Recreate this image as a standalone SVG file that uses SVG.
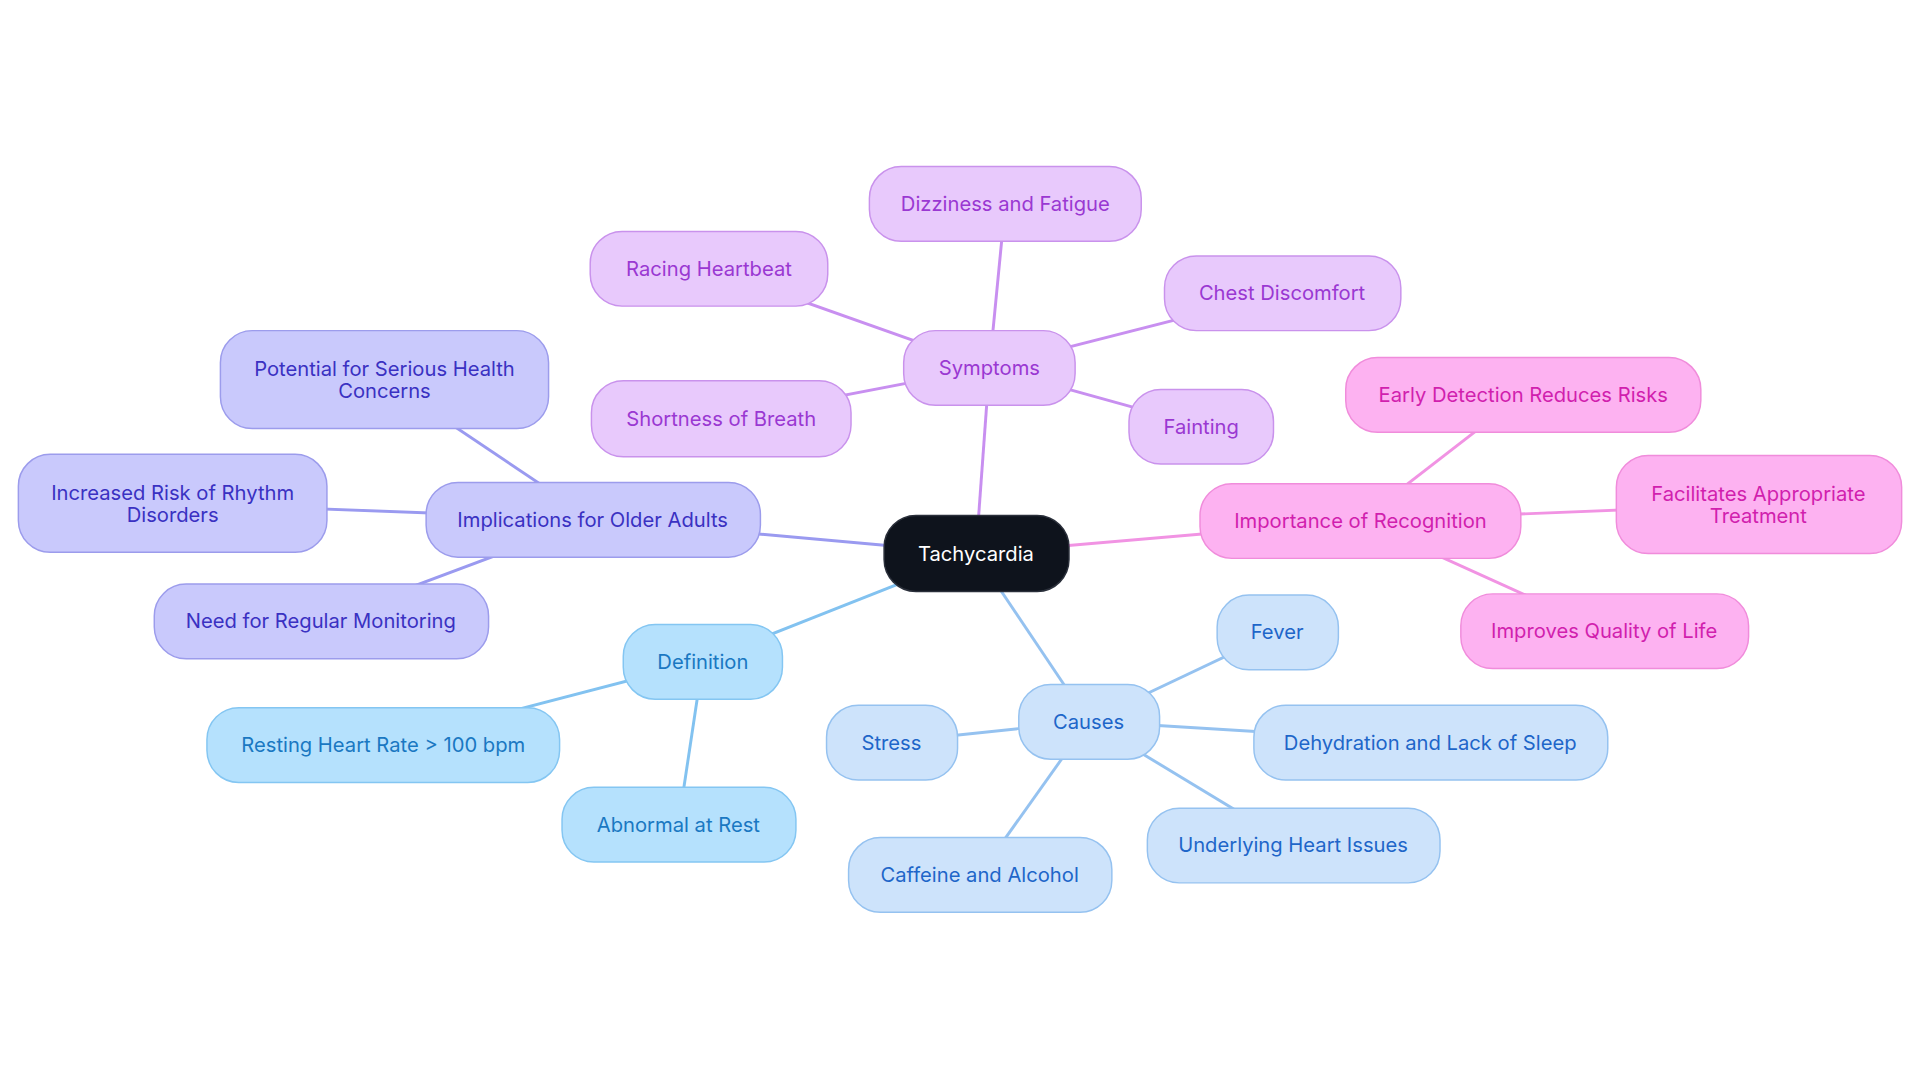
<svg xmlns="http://www.w3.org/2000/svg" width="1920" height="1083" viewBox="0 0 1920 1083">
<style>
text{font-family:Inter,"Noto Sans","Liberation Sans",sans-serif;font-size:16.5px;text-anchor:middle;dominant-baseline:central}
.sy rect{fill:#e8c9fc;stroke:#c992ec}.sy text{fill:#9a38d2}
.re rect{fill:#fdb2f1;stroke:#f08cdb}.re text{fill:#d11fae}
.im rect{fill:#c9c9fc;stroke:#9c9cec}.im text{fill:#3a31c2}
.de rect{fill:#b5e1fd;stroke:#84c6f2}.de text{fill:#1a78c2}
.ca rect{fill:#cde3fb;stroke:#95c2f0}.ca text{fill:#1e66c9}
rect{stroke-width:1.2}
#edges line{stroke-width:2.4}
</style>
<rect width="1920" height="1083" fill="#fff"/>
<g transform="scale(1.2245)">
<g id="edges">
<g stroke="#c88ff0"><line x1="797" y1="452" x2="808" y2="300"/><line x1="808" y1="300" x2="821" y2="166"/><line x1="808" y1="300" x2="579" y2="219"/><line x1="808" y1="300" x2="1047" y2="239"/><line x1="808" y1="300" x2="589" y2="342"/><line x1="808" y1="300" x2="981" y2="348"/></g>
<g stroke="#f193e3"><line x1="797" y1="452" x2="1111" y2="425"/><line x1="1111" y1="425" x2="1244" y2="322"/><line x1="1111" y1="425" x2="1436" y2="412"/><line x1="1111" y1="425" x2="1310" y2="515"/></g>
<g stroke="#9a9af0"><line x1="797" y1="452" x2="484" y2="424"/><line x1="484" y1="424" x2="314" y2="310"/><line x1="484" y1="424" x2="141" y2="411"/><line x1="484" y1="424" x2="262" y2="507"/></g>
<g stroke="#82c2f0"><line x1="797" y1="452" x2="574" y2="540"/><line x1="574" y1="540" x2="313" y2="608"/><line x1="574" y1="540" x2="554" y2="673"/></g>
<g stroke="#95c2f0"><line x1="797" y1="452" x2="889" y2="589"/><line x1="889" y1="589" x2="1043" y2="516"/><line x1="889" y1="589" x2="728" y2="606"/><line x1="889" y1="589" x2="1168" y2="606"/><line x1="889" y1="589" x2="1056" y2="690"/><line x1="889" y1="589" x2="800" y2="714"/></g>
</g>
<g id="n-root"><rect x="722" y="421" width="151" height="62" rx="26" fill="#0e131c" stroke="#2a2f3a"/><text x="797" y="452" fill="#fff">Tachycardia</text></g>
<g id="n-sym" class="sy"><rect x="738" y="270" width="140" height="61" rx="26"/><text x="808" y="300">Symptoms</text></g>
<g id="n-diz" class="sy"><rect x="710" y="136" width="222" height="61" rx="26"/><text x="821" y="166">Dizziness and Fatigue</text></g>
<g id="n-rac" class="sy"><rect x="482" y="189" width="194" height="61" rx="26"/><text x="579" y="219">Racing Heartbeat</text></g>
<g id="n-che" class="sy"><rect x="951" y="209" width="193" height="61" rx="26"/><text x="1047" y="239">Chest Discomfort</text></g>
<g id="n-sho" class="sy"><rect x="483" y="311" width="212" height="62" rx="26"/><text x="589" y="342">Shortness of Breath</text></g>
<g id="n-fai" class="sy"><rect x="922" y="318" width="118" height="61" rx="26"/><text x="981" y="348">Fainting</text></g>
<g id="n-rec" class="re"><rect x="980" y="395" width="262" height="61" rx="26"/><text x="1111" y="425">Importance of Recognition</text></g>
<g id="n-ear" class="re"><rect x="1099" y="292" width="290" height="61" rx="26"/><text x="1244" y="322">Early Detection Reduces Risks</text></g>
<g id="n-fac" class="re"><rect x="1320" y="372" width="233" height="80" rx="26"/><text x="1436" y="403">Facilitates Appropriate</text><text x="1436" y="421">Treatment</text></g>
<g id="n-imp" class="re"><rect x="1193" y="485" width="235" height="61" rx="26"/><text x="1310" y="515">Improves Quality of Life</text></g>
<g id="n-old" class="im"><rect x="348" y="394" width="273" height="61" rx="26"/><text x="484" y="424">Implications for Older Adults</text></g>
<g id="n-pot" class="im"><rect x="180" y="270" width="268" height="80" rx="26"/><text x="314" y="301">Potential for Serious Health</text><text x="314" y="319">Concerns</text></g>
<g id="n-inc" class="im"><rect x="15" y="371" width="252" height="80" rx="26"/><text x="141" y="402">Increased Risk of Rhythm</text><text x="141" y="420">Disorders</text></g>
<g id="n-nee" class="im"><rect x="126" y="477" width="273" height="61" rx="26"/><text x="262" y="507">Need for Regular Monitoring</text></g>
<g id="n-def" class="de"><rect x="509" y="510" width="130" height="61" rx="26"/><text x="574" y="540">Definition</text></g>
<g id="n-res" class="de"><rect x="169" y="578" width="288" height="61" rx="26"/><text x="313" y="608">Resting Heart Rate &gt; 100 bpm</text></g>
<g id="n-abn" class="de"><rect x="459" y="643" width="191" height="61" rx="26"/><text x="554" y="673">Abnormal at Rest</text></g>
<g id="n-cau" class="ca"><rect x="832" y="559" width="115" height="61" rx="26"/><text x="889" y="589">Causes</text></g>
<g id="n-fev" class="ca"><rect x="994" y="486" width="99" height="61" rx="26"/><text x="1043" y="516">Fever</text></g>
<g id="n-str" class="ca"><rect x="675" y="576" width="107" height="61" rx="26"/><text x="728" y="606">Stress</text></g>
<g id="n-deh" class="ca"><rect x="1024" y="576" width="289" height="61" rx="26"/><text x="1168" y="606">Dehydration and Lack of Sleep</text></g>
<g id="n-und" class="ca"><rect x="937" y="660" width="239" height="61" rx="26"/><text x="1056" y="690">Underlying Heart Issues</text></g>
<g id="n-caf" class="ca"><rect x="693" y="684" width="215" height="61" rx="26"/><text x="800" y="714">Caffeine and Alcohol</text></g>
</g>
</svg>
